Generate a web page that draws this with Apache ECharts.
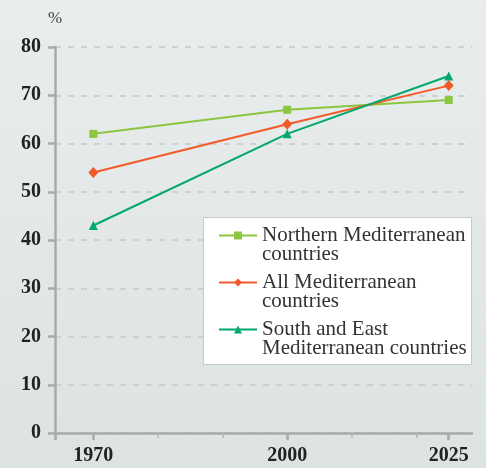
<!DOCTYPE html>
<html>
<head>
<meta charset="utf-8">
<title>Mediterranean urbanisation</title>
<script src="https://cdn.jsdelivr.net/npm/echarts@6/dist/echarts.min.js"></script>
<style>
  html, body { margin: 0; padding: 0; }
  #chart { width: 486px; height: 468px; }
</style>
</head>
<body>
<div id="chart"></div>
<script>
// data
var years = [1970, 2000, 2025];
var northern = [62, 67, 69];
var allMed = [54, 64, 72];
var southEast = [43, 62, 74];
var seriesNames = [
    'Northern Mediterranean\ncountries',
    'All Mediterranean\ncountries',
    'South and East\nMediterranean countries'
];
var majorYears = [1970, 2000, 2025];
var minorYears = [1980, 1990, 2010, 2020];

var xMin = 1964.07, xMax = 2028.6;
var serif = '"Liberation Serif", "DejaVu Serif", serif';

function pairs(vals) {
    return years.map(function (y, i) { return [y, vals[i]]; });
}

var chart = echarts.init(document.getElementById('chart'));
chart.setOption({
    animation: false,
    backgroundColor: {
        type: 'linear', x: 0, y: 0, x2: 0, y2: 1,
        colorStops: [{ offset: 0, color: '#e9eded' }, { offset: 1, color: '#dde2e3' }]
    },
    grid: { left: 55, right: 14, top: 47, bottom: 35 },
    graphic: [{
        type: 'rect',
        z: 3,
        shape: { x: 203.5, y: 217.5, width: 268, height: 147 },
        style: { fill: '#ffffff', stroke: '#c6c9c9', lineWidth: 1 }
    }],
    legend: {
        orient: 'vertical',
        left: 218,
        top: 206,
        padding: 0,
        itemWidth: 38,
        itemHeight: 10,
        itemGap: -12,
        z: 5,
        formatter: function (name) { return '\n' + name; },
        textStyle: { fontFamily: serif, fontSize: 21, color: '#333', lineHeight: 19 }
    },
    xAxis: [{
        type: 'value',
        min: xMin,
        max: xMax,
        splitLine: { show: false },
        axisLine: { onZero: false, lineStyle: { color: '#a8abab', width: 2.5 } },
        axisTick: {
            customValues: [xMin].concat(majorYears),
            length: 7,
            lineStyle: { color: '#a8abab', width: 2.5 }
        },
        axisLabel: {
            customValues: majorYears,
            formatter: function (v) { return String(v); },
            margin: 13,
            fontFamily: serif,
            fontSize: 20,
            fontWeight: 'bold',
            color: '#222'
        }
    }, {
        type: 'value',
        min: xMin,
        max: xMax,
        position: 'bottom',
        splitLine: { show: false },
        axisLine: { show: false },
        axisTick: {
            customValues: minorYears,
            length: 5,
            lineStyle: { color: '#b4b7b7', width: 1.5 }
        },
        axisLabel: { show: false }
    }],
    yAxis: {
        type: 'value',
        min: 0,
        max: 80,
        interval: 10,
        name: '%',
        nameGap: 20,
        nameTextStyle: { fontFamily: serif, fontSize: 17, color: '#444' },
        axisLine: { show: true, lineStyle: { color: '#a8abab', width: 2.5 } },
        axisTick: { show: true, length: 7, lineStyle: { color: '#a8abab', width: 2.5 } },
        axisLabel: {
            margin: 14,
            fontFamily: serif,
            fontSize: 20,
            fontWeight: 'bold',
            color: '#222'
        },
        splitLine: { lineStyle: { color: '#c6c9c9', width: 1.5, type: [6, 7] } }
    },
    series: [{
        name: seriesNames[0],
        type: 'line',
        data: pairs(northern),
        color: '#8cc63f',
        symbol: 'rect',
        symbolSize: 8,
        lineStyle: { width: 2 }
    }, {
        name: seriesNames[1],
        type: 'line',
        data: pairs(allMed),
        color: '#f15a29',
        symbol: 'diamond',
        symbolSize: [10, 11],
        lineStyle: { width: 2 }
    }, {
        name: seriesNames[2],
        type: 'line',
        data: pairs(southEast),
        color: '#00a86b',
        symbol: 'triangle',
        symbolSize: 9,
        lineStyle: { width: 2 }
    }]
});
</script>
</body>
</html>
